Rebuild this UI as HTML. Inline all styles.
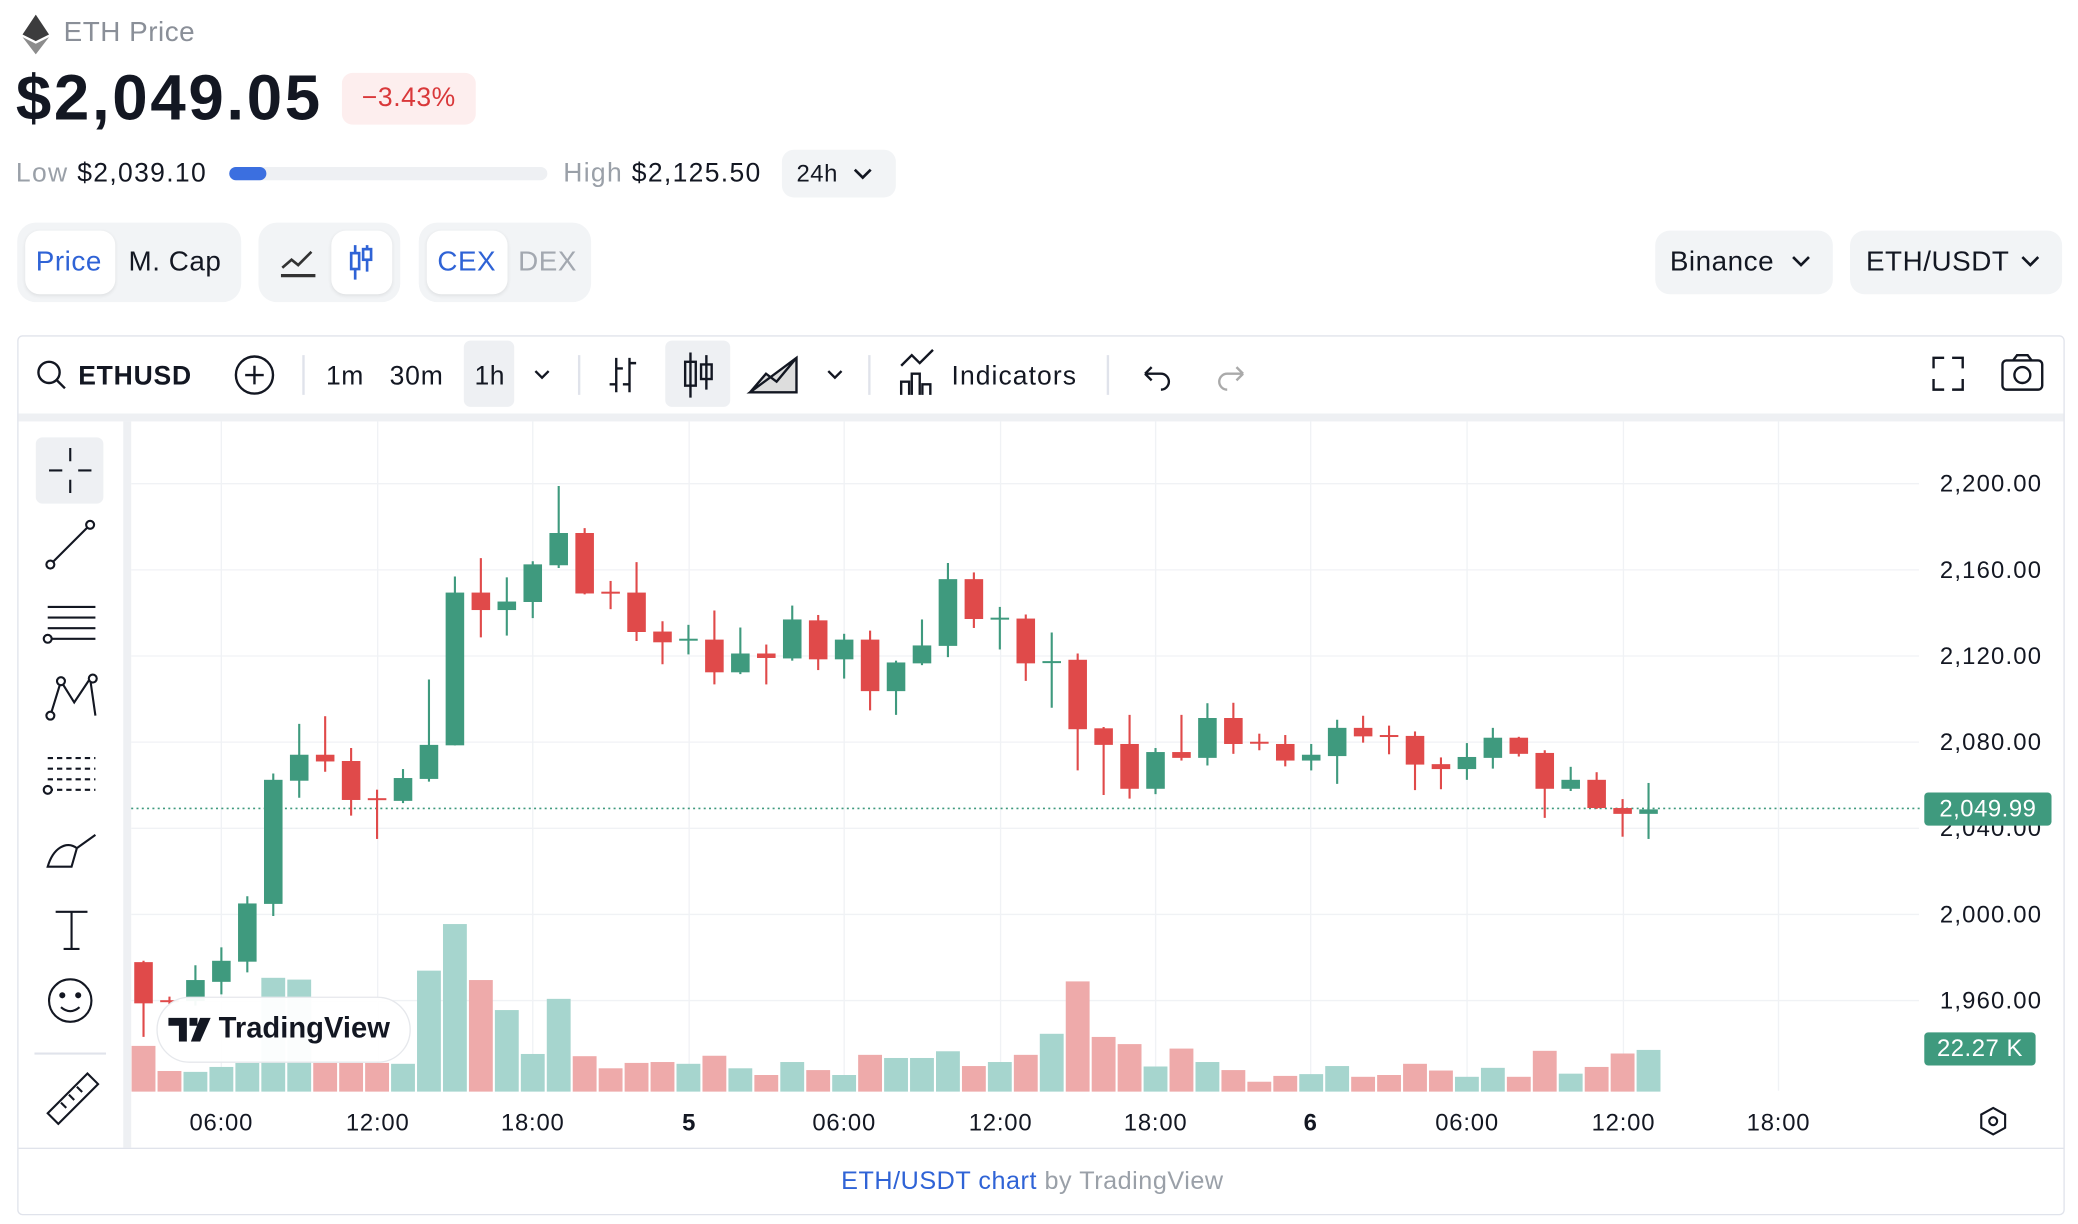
<!DOCTYPE html>
<html><head><meta charset="utf-8"><style>
*{margin:0;padding:0;box-sizing:border-box}
html,body{width:2078px;height:1224px;overflow:hidden;background:#fff}
#w{width:1568px;height:924px;transform:scale(1.32526);transform-origin:0 0;position:relative;font-family:"Liberation Sans",sans-serif;color:#131722;letter-spacing:0.4px}
.a{position:absolute;white-space:nowrap}
.grp{position:absolute;background:#f2f4f6;border-radius:14px}
.wb{position:absolute;background:#fff;border-radius:11px;box-shadow:0 1px 3px rgba(0,0,0,.08)}
</style></head><body><div id="w">
<svg class="a" style="left:17px;top:11px" width="20" height="30" viewBox="0 0 20 30"><path d="M10 0L0 15l10 5 10-5z" fill="#3c3c3d"/><path d="M10 22L0 17l10 13 10-13z" fill="#8c8c8c"/></svg>
<div class="a" style="left:48px;top:13px;font-size:21px;color:#8a8f98">ETH Price</div>
<div class="a" style="left:12px;top:47px;font-size:48px;font-weight:bold;letter-spacing:2px">$2,049.05</div>
<div class="a" style="left:258px;top:55px;width:101px;height:39px;background:#fdeeee;border-radius:8px;color:#d9383a;font-size:20px;text-align:center;line-height:39px">−3.43%</div>
<div class="a" style="left:12px;top:120px;font-size:20px;color:#9aa0a8;letter-spacing:1px">Low <span style="color:#131722">$2,039.10</span></div>
<div class="a" style="left:173px;top:126px;width:240px;height:10px;background:#eef0f3;border-radius:5px"></div>
<div class="a" style="left:173px;top:126px;width:28px;height:10px;background:#3b6fe0;border-radius:5px"></div>
<div class="a" style="left:425px;top:120px;font-size:20px;color:#9aa0a8;letter-spacing:1px">High <span style="color:#131722">$2,125.50</span></div>
<div class="a" style="left:590px;top:113px;width:86px;height:36px;background:#f2f4f6;border-radius:9px;font-size:18px;line-height:36px;padding-left:11px">24h</div>
<svg class="a" style="left:642px;top:125px" width="18" height="12"><path d="M3 3l6 6 6-6" fill="none" stroke="#131722" stroke-width="2"/></svg>

<div class="grp" style="left:13px;top:168px;width:169px;height:60px"></div>
<div class="wb" style="left:19px;top:174px;width:68px;height:48px"></div>
<div class="a" style="left:27px;top:186px;font-size:21px;color:#2f63d6">Price</div>
<div class="a" style="left:97px;top:186px;font-size:21px">M. Cap</div>
<div class="grp" style="left:195px;top:168px;width:107px;height:60px"></div>
<div class="wb" style="left:250px;top:174px;width:46px;height:48px"></div>
<svg class="a" style="left:211px;top:186px" width="28" height="24"><path d="M2 16l7-6 5 4 10-10" fill="none" stroke="#333" stroke-width="2"/><path d="M1 22h26" stroke="#333" stroke-width="2.5"/></svg>
<svg class="a" style="left:262px;top:183px" width="24" height="30" fill="none" stroke="#2f63d6" stroke-width="2"><path d="M6 2v26M15 2v20"/><rect x="3" y="8" width="6" height="12" fill="#fff"/><rect x="12" y="5" width="6" height="8" fill="#fff"/></svg>
<div class="grp" style="left:316px;top:168px;width:130px;height:60px"></div>
<div class="wb" style="left:322px;top:174px;width:61px;height:48px"></div>
<div class="a" style="left:330px;top:186px;font-size:21px;color:#2f63d6">CEX</div>
<div class="a" style="left:391px;top:186px;font-size:21px;color:#a3a8b0">DEX</div>
<div class="grp" style="left:1249px;top:174px;width:134px;height:48px;border-radius:11px"></div>
<div class="a" style="left:1260px;top:186px;font-size:21px">Binance</div>
<svg class="a" style="left:1350px;top:191px" width="18" height="12"><path d="M3 3l6 6 6-6" fill="none" stroke="#131722" stroke-width="2"/></svg>
<div class="grp" style="left:1396px;top:174px;width:160px;height:48px;border-radius:11px"></div>
<div class="a" style="left:1408px;top:186px;font-size:21px">ETH/USDT</div>
<svg class="a" style="left:1523px;top:191px" width="18" height="12"><path d="M3 3l6 6 6-6" fill="none" stroke="#131722" stroke-width="2"/></svg>

<div class="a" style="left:13px;top:253px;width:1545px;height:664px;border:1px solid #e0e3eb;border-radius:4px"></div>
<div class="a" style="left:14px;top:312px;width:1543px;height:6px;background:#eef0f3"></div>
<div class="a" style="left:93px;top:318px;width:6px;height:548px;background:#eef0f3"></div>
<div class="a" style="left:14px;top:866px;width:1543px;height:1px;background:#e0e3eb"></div>
<div class="a" style="left:0;width:1568px;top:881px;text-align:center;font-size:19px;color:#9aa0a8;padding-right:10px"><span style="color:#2f63d6">ETH/USDT chart</span> by TradingView</div>

<svg class="a" style="left:0;top:254px" width="1568" height="58" font-family="Liberation Sans" font-size="20" fill="none" stroke="#131722" stroke-width="1.8">
<circle cx="37" cy="27" r="8"/><path d="M43 33l6 6"/>
<text x="59" y="36" fill="#131722" stroke="none" font-weight="bold" font-size="20" letter-spacing="0.6">ETHUSD</text>
<circle cx="192" cy="29" r="14"/><path d="M185 29h14M192 22v14"/>
<path d="M229 14v30M437 14v30M656 14v30M836 14v30" stroke="#e0e3eb"/>
<text x="246" y="36" fill="#131722" stroke="none">1m</text><text x="294" y="36" fill="#131722" stroke="none" letter-spacing="0.6">30m</text>
<rect x="350" y="3" width="38" height="50" rx="5" fill="#eef0f3" stroke="none"/><text x="358" y="36" fill="#131722" stroke="none">1h</text>
<path d="M404 26l5 5 5-5M625 26l5 5 5-5"/>
<path d="M465 16v26M475 16v26M460 36h5M465 24h5M475 20h5M470 36h5"/>
<rect x="502" y="3" width="49" height="50" rx="5" fill="#eef0f3" stroke="none"/>
<path d="M521 12v34M533 14v26"/><rect x="517" y="19" width="8" height="18"/><rect x="529" y="21" width="8" height="11"/>
<path d="M566 42l12-14 8 6 15-18M566 42h35L601 16z" fill="#ddd"/>
<path d="M680 44V34h6v10M688 44V28h6v16M696 44V36h6v8M680 22l8-8 6 6 10-10"/>
<text x="718" y="36" fill="#131722" stroke="none" letter-spacing="0.8">Indicators</text>
<path d="M864 28h12a6 6 0 010 12M864 28l5-5M864 28l5 5"/><path d="M938 28h-12a6 6 0 000 12M938 28l-5-5M938 28l-5 5" stroke="#aaa"/>
<path d="M1459 24v-8h8M1481 24v-8h-8M1459 32v8h8M1481 32v8h-8"/>
<rect x="1511" y="18" width="30" height="22" rx="3"/><circle cx="1526" cy="29" r="6"/><path d="M1519 18l3-4h8l3 4"/>
</svg>

<div class="a" style="left:27px;top:330px;width:51px;height:50px;background:#eef0f3;border-radius:5px"></div>
<svg class="a" style="left:14px;top:318px" width="80" height="548" fill="none" stroke="#131722" stroke-width="1.6">
<path d="M39 20v10M39 44v10M23 37h10M45 37h10"/>
<path d="M24 108l30-30"/><circle cx="24" cy="108" r="3" fill="#fff"/><circle cx="54" cy="78" r="3" fill="#fff"/>
<path d="M22 140h36M22 148h36M22 156h36M22 164h36"/><circle cx="22" cy="164" r="3" fill="#fff"/>
<path d="M24 222l8-26 10 16 12-18 4 28"/><circle cx="24" cy="222" r="3" fill="#fff"/><circle cx="32" cy="196" r="3" fill="#fff"/><circle cx="56" cy="194" r="3" fill="#fff"/>
<path d="M22 254h36M22 262h36M22 270h36M22 278h36" stroke-dasharray="4 3"/><circle cx="22" cy="278" r="3" fill="#fff"/>
<path d="M22 336c4-14 14-20 22-14l-4 14zM44 322l14-10"/>
<path d="M28 370h24M40 370v28M34 398h12"/>
<circle cx="39" cy="437" r="16"/><circle cx="33" cy="433" r="1.5" fill="#131722"/><circle cx="45" cy="433" r="1.5" fill="#131722"/><path d="M32 442q7 6 14 0"/>
<path d="M12 477h54" stroke="#e0e3eb"/>
<path d="M22 522l30-30 8 8-30 30zM32 514l4 4M38 508l4 4M44 502l4 4"/>
</svg>

<svg class="a" style="left:0;top:0" width="1568" height="924" id="ch"></svg>
<div class="a" style="left:118px;top:752px;width:192px;height:50px;background:rgba(255,255,255,.95);border:1px solid #e6e8ec;border-radius:25px"></div>
<svg class="a" style="left:127px;top:768px" width="34" height="18"><path d="M0 0h14v18h-6V6H0z M16 0h6v6h-6z M24 0h8l-8 18h-7z" fill="#131722"/></svg>
<div class="a" style="left:165px;top:763px;font-size:22px;font-weight:bold;letter-spacing:0">TradingView</div>
<div class="a" style="left:1452px;top:598px;width:96px;height:25px;background:#3f9a7e;border-radius:3px;color:#fff;font-size:18px;line-height:25px;text-align:center">2,049.99</div>
<div class="a" style="left:1452px;top:779px;width:84px;height:25px;background:#3f9a7e;border-radius:3px;color:#fff;font-size:18px;line-height:25px;text-align:center">22.27 K</div>
<script>
var G="#3f9a7e",R="#e04a4a",GV="#a6d5ce",RV="#eeaaaa";
var C=[[1213,1305,1210,1380,0],[1298,1302,1290,1310,0],[1253,1300,1220,1310,1],[1210,1257,1180,1285,1],[1082,1212,1066,1236,1],[806,1083,792,1110,1],[750,808,681,846,1],[750,765,664,788,0],[764,851,735,886,0],[847,849,828,938,0],[802,853,782,858,1],[728,804,582,810,1],[388,729,352,729,1],[388,427,311,488,0],[408,427,354,484,1],[325,409,318,445,1],[255,327,150,333,1],[255,390,244,392,0],[386,388,362,425,0],[388,476,320,496,0],[475,499,452,548,0],[491,493,460,526,1],[493,566,428,593,0],[524,566,466,570,1],[524,534,504,593,0],[448,535,417,540,1],[450,537,438,561,0],[493,537,480,580,1],[493,608,473,651,0],[544,608,540,661,1],[506,546,448,550,1],[358,507,322,532,1],[358,447,343,467,0],[444,446,420,515,1],[446,546,437,585,0],[541,543,477,645,1],[538,693,524,785,0],[691,728,688,840,0],[726,826,661,848,0],[744,826,735,838,1],[744,757,661,763,0],[668,757,635,774,1],[668,726,634,748,0],[721,723,703,740,0],[726,763,706,776,0],[750,763,726,785,1],[690,753,672,815,1],[690,709,663,723,0],[706,708,685,749,0],[708,772,698,829,0],[771,782,756,827,0],[755,782,724,806,1],[712,757,690,781,1],[712,748,710,754,0],[746,826,740,891,0],[806,826,777,831,1],[806,869,789,871,0],[869,882,849,933,0],[872,882,813,938,1]];
var V=[1400,1456,1458,1447,1438,1248,1252,1438,1438,1438,1440,1232,1128,1253,1320,1418,1295,1423,1450,1438,1436,1440,1422,1450,1465,1436,1454,1465,1420,1427,1427,1412,1445,1436,1420,1373,1256,1380,1396,1446,1406,1436,1454,1480,1467,1463,1445,1469,1465,1440,1455,1469,1449,1469,1411,1462,1447,1417,1409];
function y(z){return 316+0.338*z}
var s='';
var xs=[167,285,402,520,637,755,872,989,1107,1225,1342];
xs.forEach(function(x){s+='<line x1="'+x+'" y1="318" x2="'+x+'" y2="823" stroke="#f0f2f5"/>'});
var ps=[["2,200.00",365],["2,160.00",430],["2,120.00",495],["2,080.00",560],["2,040.00",625],["2,000.00",690],["1,960.00",755]];
ps.forEach(function(p){s+='<line x1="99" y1="'+p[1]+'" x2="1448" y2="'+p[1]+'" stroke="#f0f2f5"/><text x="1541" y="'+(p[1]+6)+'" text-anchor="end" font-size="18" fill="#131722" letter-spacing="0.9" font-family="Liberation Sans">'+p[0]+'</text>'});
var lb=["06:00","12:00","18:00","5","06:00","12:00","18:00","6","06:00","12:00","18:00"];
lb.forEach(function(t,i){s+='<text x="'+xs[i]+'" y="853" text-anchor="middle" font-size="18" fill="#131722" letter-spacing="0.6" font-family="Liberation Sans"'+(t.length==1?' font-weight="bold"':'')+'>'+t+'</text>'});
V.forEach(function(v,i){var x=108.3+19.58*i;var t=y(v);s+='<rect x="'+(x-9)+'" y="'+t+'" width="18" height="'+(823.7-t)+'" fill="'+(C[i][4]?GV:RV)+'"/>'});
s+='<line x1="99" y1="610" x2="1450" y2="610" stroke="#3f9a7e" stroke-width="1.2" stroke-dasharray="1.5 2.5"/>';
C.forEach(function(c,i){var x=108.3+19.58*i,col=c[4]?G:R;s+='<line x1="'+x+'" x2="'+x+'" y1="'+y(c[2])+'" y2="'+y(c[3])+'" stroke="'+col+'" stroke-width="1.6"/>';var t=y(c[0]),b=y(c[1]);if(b-t<1.5)b=t+1.5;s+='<rect x="'+(x-7)+'" y="'+t+'" width="14" height="'+(b-t)+'" fill="'+col+'"/>'});
s+='<g fill="none" stroke="#131722" stroke-width="1.6"><path d="M1504 836l9 5v10l-9 5-9-5v-10z"/><circle cx="1504" cy="846" r="3"/></g>';
document.getElementById('ch').innerHTML=s;
</script>
</div></body></html>
